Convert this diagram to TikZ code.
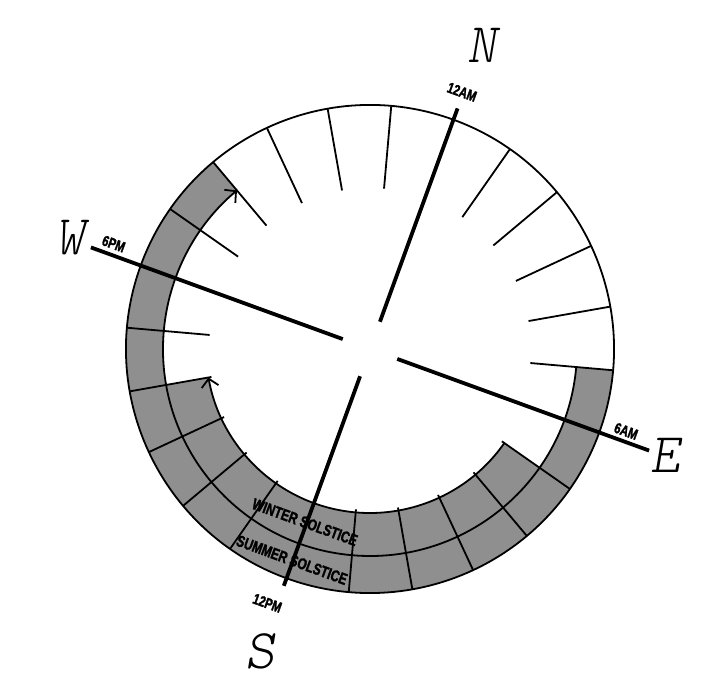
\documentclass[tikz,border=0pt]{standalone}
\usepackage{fontspec}
\newfontfamily\cadfont{Liberation Sans}[FakeStretch=0.75,
    BoldFeatures={FakeBold=1.6}]
\usetikzlibrary{arrows.meta}
\definecolor{bandGray}{HTML}{8F8F8F}
\newcommand{\compassfont}{\fontfamily{lmtt}\fontseries{l}\fontshape{sl}%
    \fontsize{56}{60}\selectfont}
\tikzset{
    rimline/.style={line width=1.8pt},
    hourtick/.style={line width=1.8pt},
    axisline/.style={line width=3.8pt},
    sunpath/.style={line width=1.8pt,
                    -{Straight Barb[length=8pt, width=17pt]}},
    band/.style={fill=bandGray},
    hourlabel/.style={font=\cadfont\bfseries\fontsize{15}{16}\selectfont,
                      rotate=-20, inner sep=0pt},
    seasonlabel/.style={font=\cadfont\bfseries\fontsize{16}{17}\selectfont,
                        rotate=-20, inner sep=0pt},
    compass/.style={font=\compassfont, inner sep=0pt},
}

\begin{document}
\begin{tikzpicture}[x=1pt, y=1pt]
\useasboundingbox (-370,-343) rectangle (356,349);
\begin{scope}[rotate=-20]
% --- daylight bands ---
\fill[band] (15:244) arc[start angle=15, end angle=-210, radius=244]
    -- (-210:207) arc[start angle=-210, end angle=15, radius=207] -- cycle;
\fill[band] (-15:207) arc[start angle=-15, end angle=-150, radius=207]
    -- (-150:164) arc[start angle=-150, end angle=-15, radius=164] -- cycle;

% --- rim, sun paths and hour ticks ---
\draw[rimline] (0,0) circle[radius=244];
\draw[sunpath] (15:207) arc[start angle=15, end angle=-210, radius=207];
\draw[sunpath] (-15:164) arc[start angle=-15, end angle=-150, radius=164];
\foreach \q in {0,90,180,270}
    \foreach \k in {15,30,45,60,75}
        \draw[hourtick] (\q+\k:161) -- (\q+\k:244);

% --- season labels ---
\node[seasonlabel] (winter) at (269.4:185) {WINTER SOLSTICE};
\node[seasonlabel] (summer) at (269.7:225) {SUMMER SOLSTICE};

% --- axes ---
\draw[axisline] (90:29) -- (90:256);
\draw[axisline] (270:29) -- (270:252);
\draw[axisline] (0:29) -- (0:297);
\draw[axisline] (180:29) -- (180:297);

% --- hour and compass labels ---
\node[hourlabel] (h-12am) at (90.3:273) {12AM};
\node[hourlabel] (h-6am) at (2.2:269) {6AM};
\node[hourlabel] (h-12pm) at (268:274) {12PM};
\node[hourlabel] (h-6pm) at (177.7:277) {6PM};
\node[compass] (dir-n) at (89.8:324) {N};
\node[compass] (dir-e) at (0.1:314) {E};
\node[compass] (dir-s) at (270:322) {S};
\node[compass] (dir-w) at (179.7:320) {W};
\end{scope}
\end{tikzpicture}
\end{document}
